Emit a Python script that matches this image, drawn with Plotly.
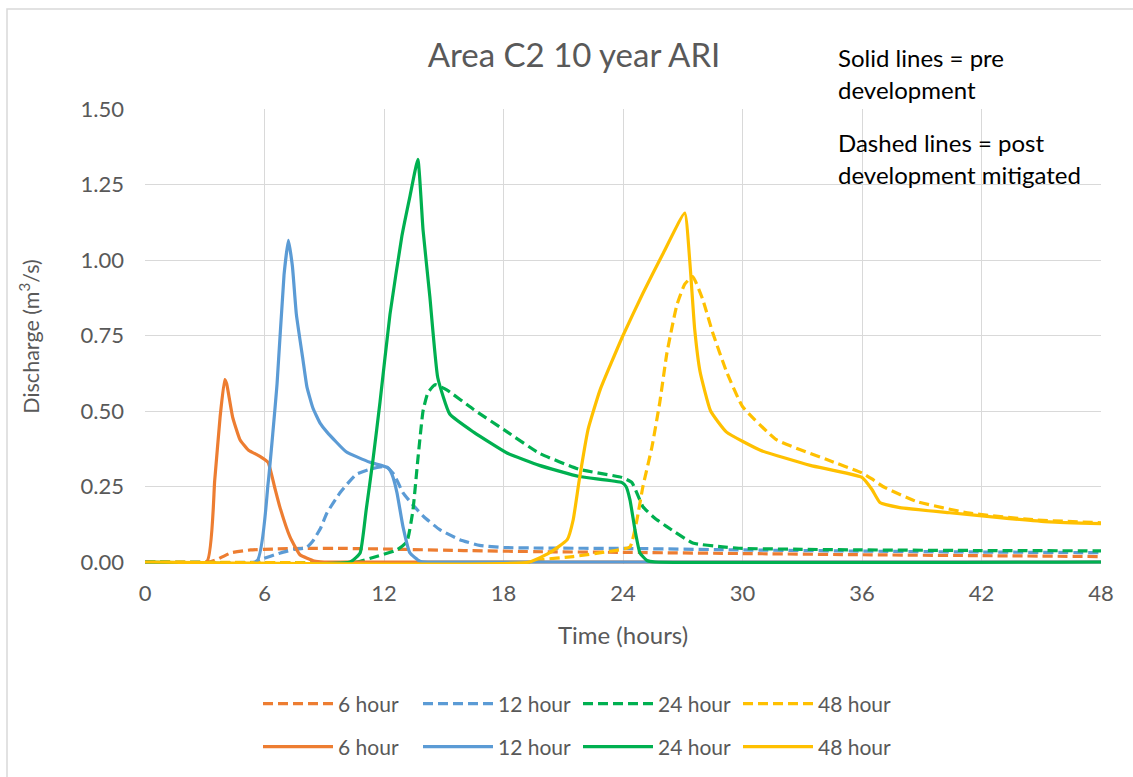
import plotly.graph_objects as go

# ---------------- data ----------------
x_ticks = [0, 6, 12, 18, 24, 30, 36, 42, 48]
y_ticks = [0.0, 0.25, 0.5, 0.75, 1.0, 1.25, 1.5]
series_names = ["6 hour", "12 hour", "24 hour", "48 hour"]

# post development mitigated (dashed)
post6_t = [0, 3.2, 3.6, 4.3, 5.3, 6.5, 8, 10, 12, 16, 20, 24, 30, 36, 42, 48]
post6_v = [0, 0, 0.008, 0.03, 0.04, 0.043, 0.045, 0.045, 0.043, 0.038, 0.034, 0.032, 0.028, 0.024, 0.021, 0.018]

post12_t = [0, 5.5, 5.8, 6.8, 7.5, 8.1, 8.4, 8.8, 9.14, 9.8, 10.6, 11.45, 12.1, 12.5, 12.95, 13.5, 14, 14.8, 15.8, 16.8, 18, 20, 24, 30, 36, 42, 48]
post12_v = [0, 0, 0.008, 0.03, 0.042, 0.047, 0.067, 0.11, 0.163, 0.23, 0.29, 0.31, 0.316, 0.29, 0.23, 0.185, 0.15, 0.107, 0.074, 0.055, 0.048, 0.046, 0.045, 0.04, 0.036, 0.033, 0.031]

post24_t = [0, 10.6, 11.45, 12.65, 13.15, 13.45, 13.7, 13.96, 14.2, 14.56, 15.15, 16.5, 18.2, 19.8, 21.8, 23.95, 24.45, 25, 25.6, 26.2, 27.5, 29, 30, 33, 36, 42, 48]
post24_v = [0, 0, 0.015, 0.04, 0.067, 0.17, 0.34, 0.50, 0.56, 0.587, 0.57, 0.505, 0.43, 0.36, 0.307, 0.28, 0.263, 0.183, 0.145, 0.117, 0.063, 0.05, 0.045, 0.042, 0.04, 0.038, 0.037]

post48_t = [0, 19.5, 19.8, 21.5, 23.2, 24.35, 24.7, 25, 25.45, 25.85, 26.2, 26.7, 27.1, 27.5, 28, 28.5, 29.2, 30, 31.7, 34.2, 36, 36.5, 37.05, 38.75, 41.3, 44.6, 48]
post48_v = [0, 0, 0.007, 0.018, 0.034, 0.05, 0.14, 0.25, 0.38, 0.53, 0.69, 0.85, 0.92, 0.945, 0.87, 0.76, 0.63, 0.515, 0.405, 0.34, 0.295, 0.275, 0.25, 0.2, 0.163, 0.14, 0.13]

# pre development (solid)
pre6_t = [0, 3.1, 3.5, 3.77, 4.0, 4.1, 4.4, 4.77, 5.2, 5.77, 6.18, 6.5, 6.78, 7.28, 7.78, 8.5, 9, 48]
pre6_v = [0, 0, 0.27, 0.48, 0.604, 0.59, 0.48, 0.405, 0.37, 0.35, 0.33, 0.25, 0.18, 0.083, 0.024, 0.003, 0, 0]

pre12_t = [0, 5.6, 6.18, 6.63, 6.98, 7.2, 7.4, 7.6, 7.93, 8.13, 8.43, 8.79, 9.14, 10.1, 11.3, 12.2, 12.4, 12.65, 12.95, 13.3, 13.8, 14.2, 48]
pre12_v = [0, 0, 0.26, 0.59, 0.95, 1.065, 0.98, 0.82, 0.67, 0.58, 0.51, 0.46, 0.43, 0.365, 0.33, 0.312, 0.29, 0.23, 0.118, 0.03, 0.003, 0, 0]

pre24_t = [0, 10.3, 10.8, 11.1, 11.45, 11.8, 12.3, 12.9, 13.3, 13.7, 13.96, 14.3, 14.7, 15.3, 16.5, 18.2, 19.8, 21.8, 23.95, 24.15, 24.35, 24.6, 24.85, 25.2, 25.6, 48]
pre24_v = [0, 0, 0.03, 0.17, 0.34, 0.53, 0.82, 1.08, 1.21, 1.333, 1.1, 0.88, 0.61, 0.49, 0.43, 0.36, 0.32, 0.283, 0.263, 0.25, 0.206, 0.107, 0.03, 0.005, 0, 0]

pre48_t = [0, 19.3, 20.3, 21.2, 21.5, 21.8, 22.25, 22.85, 24, 25, 26, 27.1, 27.36, 27.6, 27.87, 28.4, 29.2, 30.9, 33.4, 36, 36.5, 36.9, 37.9, 40.4, 42.9, 45.4, 48]
pre48_v = [0, 0, 0.03, 0.074, 0.14, 0.27, 0.44, 0.57, 0.75, 0.89, 1.02, 1.155, 0.99, 0.77, 0.63, 0.50, 0.43, 0.37, 0.32, 0.28, 0.24, 0.197, 0.18, 0.163, 0.147, 0.133, 0.127]

colors = ["#ED7D31", "#5B9BD5", "#00B050", "#FFC000"]

post = [(post6_t, post6_v), (post12_t, post12_v), (post24_t, post24_v), (post48_t, post48_v)]
pre = [(pre6_t, pre6_v), (pre12_t, pre12_v), (pre24_t, pre24_v), (pre48_t, pre48_v)]

FONT = "Lato"
GRAY = "#595959"

fig = go.Figure()
for name, (t, v), c in zip(series_names, post, colors):
    fig.add_trace(go.Scatter(x=t, y=v, mode="lines", name=name, legend="legend",
                             line=dict(color=c, width=3.2, dash="10px,5px",
                                       shape="spline", smoothing=0.4)))
for name, (t, v), c in zip(series_names, pre, colors):
    fig.add_trace(go.Scatter(x=t, y=v, mode="lines", name=name, legend="legend2",
                             line=dict(color=c, width=3.2, shape="spline", smoothing=0.4)))

W, H = 1133, 777
Y_MIN = -0.0066          # tiny pad below zero so the baseline lines are not clipped
L, R, T, B = 145, 32, 109, 213
PW, PH = W - L - R, H - T - B

def px_x(p):
    return (p - L) / PW

def px_y(p):
    return (H - B - p) / PH

legend_common = dict(orientation="h", xanchor="left", yanchor="middle",
                     entrywidth=75, entrywidthmode="pixels", itemwidth=70,
                     font=dict(family=FONT, size=21, color=GRAY),
                     bgcolor="rgba(0,0,0,0)", traceorder="normal")

fig.update_layout(
    width=W, height=H,
    margin=dict(l=L, r=R, t=T, b=B, pad=0, autoexpand=False),
    paper_bgcolor="white", plot_bgcolor="white",
    font=dict(family=FONT, color=GRAY),
    title=dict(text="Area C2 10 year ARI", x=px_x(574), xref="paper", xanchor="center",
               y=1 - 55 / H, yanchor="middle",
               font=dict(family=FONT, size=33, color=GRAY)),
    xaxis=dict(range=[0, 48], tickvals=x_ticks, ticktext=[str(v) for v in x_ticks],
               showgrid=True, gridcolor="#D9D9D9", gridwidth=1, zeroline=False,
               showline=False, ticks="", ticklabelstandoff=14,
               tickfont=dict(family=FONT, size=22, color=GRAY),
               title=dict(text="Time (hours)", standoff=22,
                          font=dict(family=FONT, size=24, color=GRAY))),
    yaxis=dict(range=[Y_MIN, 1.5], tickvals=y_ticks, tickformat=".2f",
               showgrid=True, gridcolor="#D9D9D9", gridwidth=1, zeroline=False,
               showline=False, ticks="", ticklabelstandoff=20,
               tickfont=dict(family=FONT, size=22, color=GRAY),
               title=dict(text="Discharge (m<sup>3</sup>/s)", standoff=34,
                          font=dict(family=FONT, size=21.5, color=GRAY))),
    legend=dict(x=px_x(258), y=px_y(704), **legend_common),
    legend2=dict(x=px_x(258), y=px_y(747), **legend_common),
    shapes=[dict(type="rect", xref="paper", yref="paper",
                 x0=px_x(7), x1=px_x(1150), y0=px_y(800), y1=px_y(9),
                 line=dict(color="#D9D9D9", width=1.5), fillcolor="rgba(0,0,0,0)", layer="below")],
    annotations=[
        dict(text=txt, x=px_x(836), y=px_y(yc), xref="paper", yref="paper",
             xanchor="left", yanchor="middle", showarrow=False,
             font=dict(family=FONT, size=24, color="black"))
        for txt, yc in [("Solid lines = pre", 58), ("development", 90),
                        ("Dashed lines = post", 143), ("development mitigated", 174)]
    ],
)

fig.write_html("out.html")
